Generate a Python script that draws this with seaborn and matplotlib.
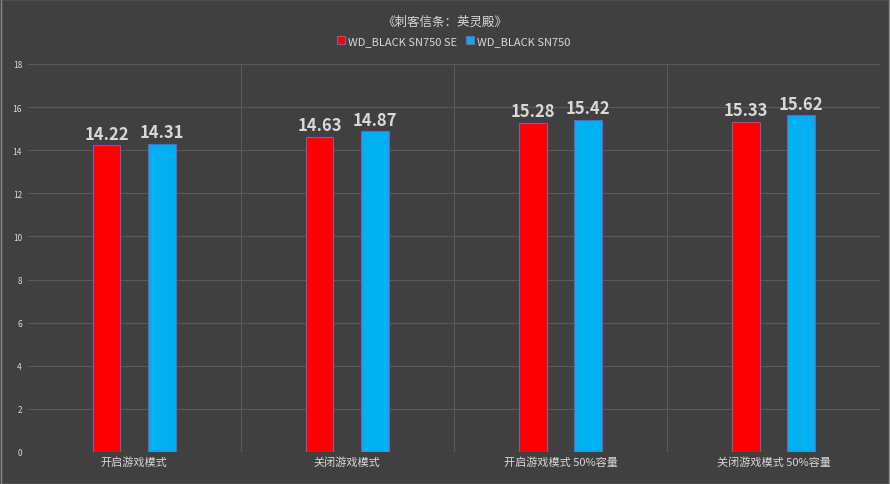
import matplotlib
matplotlib.use("Agg")
import matplotlib.pyplot as plt
import seaborn as sns
import pandas as pd

categories = ["开启游戏模式", "关闭游戏模式", "开启游戏模式 50%容量", "关闭游戏模式 50%容量"]
series = ["WD_BLACK SN750 SE", "WD_BLACK SN750"]
se_values = [14.22, 14.63, 15.28, 15.33]
sn_values = [14.31, 14.87, 15.42, 15.62]
colors = ["#ff0000", "#00b0f0"]

df = pd.DataFrame({
    "cat": categories * 2,
    "series": [series[0]] * 4 + [series[1]] * 4,
    "val": se_values + sn_values,
})

sns.set_theme(style="dark")
plt.rcParams['font.family'] = ['Noto Sans CJK SC', 'DejaVu Sans']
bg = "#404040"
fig = plt.figure(figsize=(8.9, 4.85), dpi=100, facecolor=bg)
ax = fig.add_axes([0.031, 0.066, 0.958, 0.80])
ax.set_facecolor(bg)
sns.barplot(data=df, x="cat", y="val", hue="series", palette=colors, ax=ax,
            width=0.52, gap=0.5, edgecolor="#7a5fb0", linewidth=0.8, saturation=1)
for c in ax.containers:
    ax.bar_label(c, fmt="%.2f", color="#d9d9d9", fontsize=12, fontweight="bold", padding=2)
ax.set_ylim(0, 18)
ax.set_yticks(range(0, 19, 2))
ax.set_xlim(-0.5, 3.5)
ax.set_xlabel(""); ax.set_ylabel("")
ax.tick_params(axis="y", labelsize=6, colors="#d9d9d9", length=0, pad=4)
ax.tick_params(axis="x", labelsize=8, colors="#d9d9d9", length=0, pad=3)
ax.grid(axis="y", color="#5a5a5a", linewidth=0.8)
for xv in [0.5, 1.5, 2.5]:
    ax.axvline(xv, color="#5a5a5a", linewidth=0.8)
for s in ax.spines.values():
    s.set_visible(False)
ax.axhline(0, color="#6a6a6a", linewidth=0.8)
leg = ax.legend(loc="lower center", bbox_to_anchor=(0.5, 1.02), ncol=2, frameon=False,
                fontsize=8, labelcolor="#d9d9d9", handlelength=0.7, handleheight=0.7,
                columnspacing=0.8, handletextpad=0.3)
fig.text(0.5, 0.955, "《刺客信条：英灵殿》", ha="center", va="center", color="#d9d9d9", fontsize=9)
fig.patches.append(plt.Rectangle((0.001, 0.001), 0.998, 0.998, transform=fig.transFigure,
                                 fill=False, edgecolor="#888888", linewidth=1))
fig.savefig("out.png", dpi=100, facecolor=bg)
